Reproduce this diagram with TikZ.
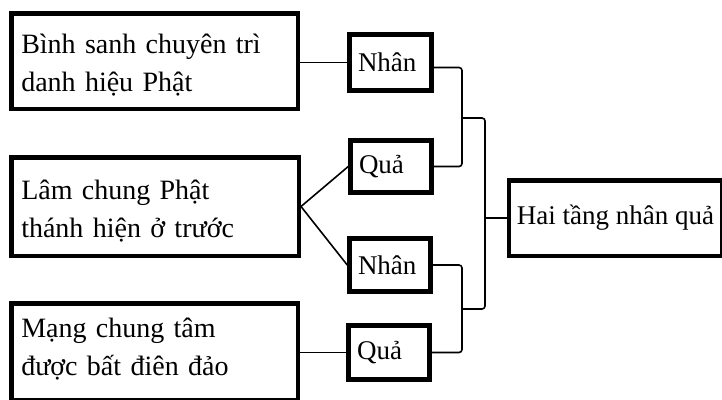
\documentclass[tikz,border=0pt]{standalone}
\usepackage{fontspec}
\setmainfont{Liberation Serif}
\begin{document}
\begin{tikzpicture}[x=1pt,y=-1pt,
  bigbox/.style={draw, line width=4.5pt, rectangle, align=left, inner xsep=10pt, inner ysep=0pt,
    font=\fontsize{28}{38}\selectfont},
  smallbox/.style={draw, line width=4.5pt, rectangle, align=left, inner xsep=8.5pt, inner ysep=0pt,
    font=\fontsize{27}{38}\selectfont},
  link/.style={line width=1.6pt},
  brack/.style={line width=1.6pt, rounded corners=3pt}]
\useasboundingbox (0,0) rectangle (722,399);
\begin{scope}
\clip (0,0) rectangle (722,399);
% left boxes
\node[bigbox, minimum width=286.5pt, minimum height=95.5pt, text width=266.5pt, text height=24pt, text depth=40pt] (b1) at (154.5,61) {Bình sanh chuyên trì\\danh hiệu Phật};
\node[bigbox, minimum width=287.5pt, minimum height=98.5pt, text width=267.5pt, text height=24pt, text depth=39pt] (b2) at (155,206.5) {Lâm chung Phật\\thánh hiện ở trước};
\node[bigbox, minimum width=286.5pt, minimum height=97.25pt, text width=266.5pt, text height=24pt, text depth=53.8pt] (b3) at (154.5,351.9) {Mạng chung tâm\\được bất điên đảo};
% small boxes
\node[smallbox, minimum width=82pt, minimum height=56pt, text width=65pt] (n1) at (390.5,62.5) {Nhân};
\node[smallbox, minimum width=81pt, minimum height=52pt, text width=64pt] (q1) at (391,166.5) {Quả};
\node[smallbox, minimum width=81pt, minimum height=53pt, text width=64pt] (n2) at (390,265) {Nhân};
\node[smallbox, minimum width=81pt, minimum height=54pt, text width=64pt] (q2) at (389,352.5) {Quả};
% result box
\node[draw, line width=4.5pt, rectangle, inner xsep=8pt, inner ysep=0pt, minimum width=212.5pt, minimum height=75.5pt, font=\fontsize{27}{38}\selectfont] (h) at (615.5,218) {Hai tầng nhân quả};
% connectors
\draw[link] (b1.east |- n1.west) -- (n1.west);
\draw[link] (b2.east) -- (q1.west);
\draw[link] (b2.east) -- (n2.west);
\draw[link] (b3.east |- q2.west) -- (q2.west);
% brackets
\coordinate (j1) at (462,118);
\coordinate (j2) at (462,309);
\coordinate (k1) at (485,118);
\coordinate (k2) at (485,309);
\draw[brack] ([yshift=-5pt]n1.east) -| (j1) |- (q1.east);
\draw[brack] (n2.east) -| (j2) |- (q2.east);
\draw[brack] (j1) -- (k1) -- (k2) -- (j2);
\draw[link] (k1 |- h.west) -- (h.west);
\end{scope}
\end{tikzpicture}
\end{document}
